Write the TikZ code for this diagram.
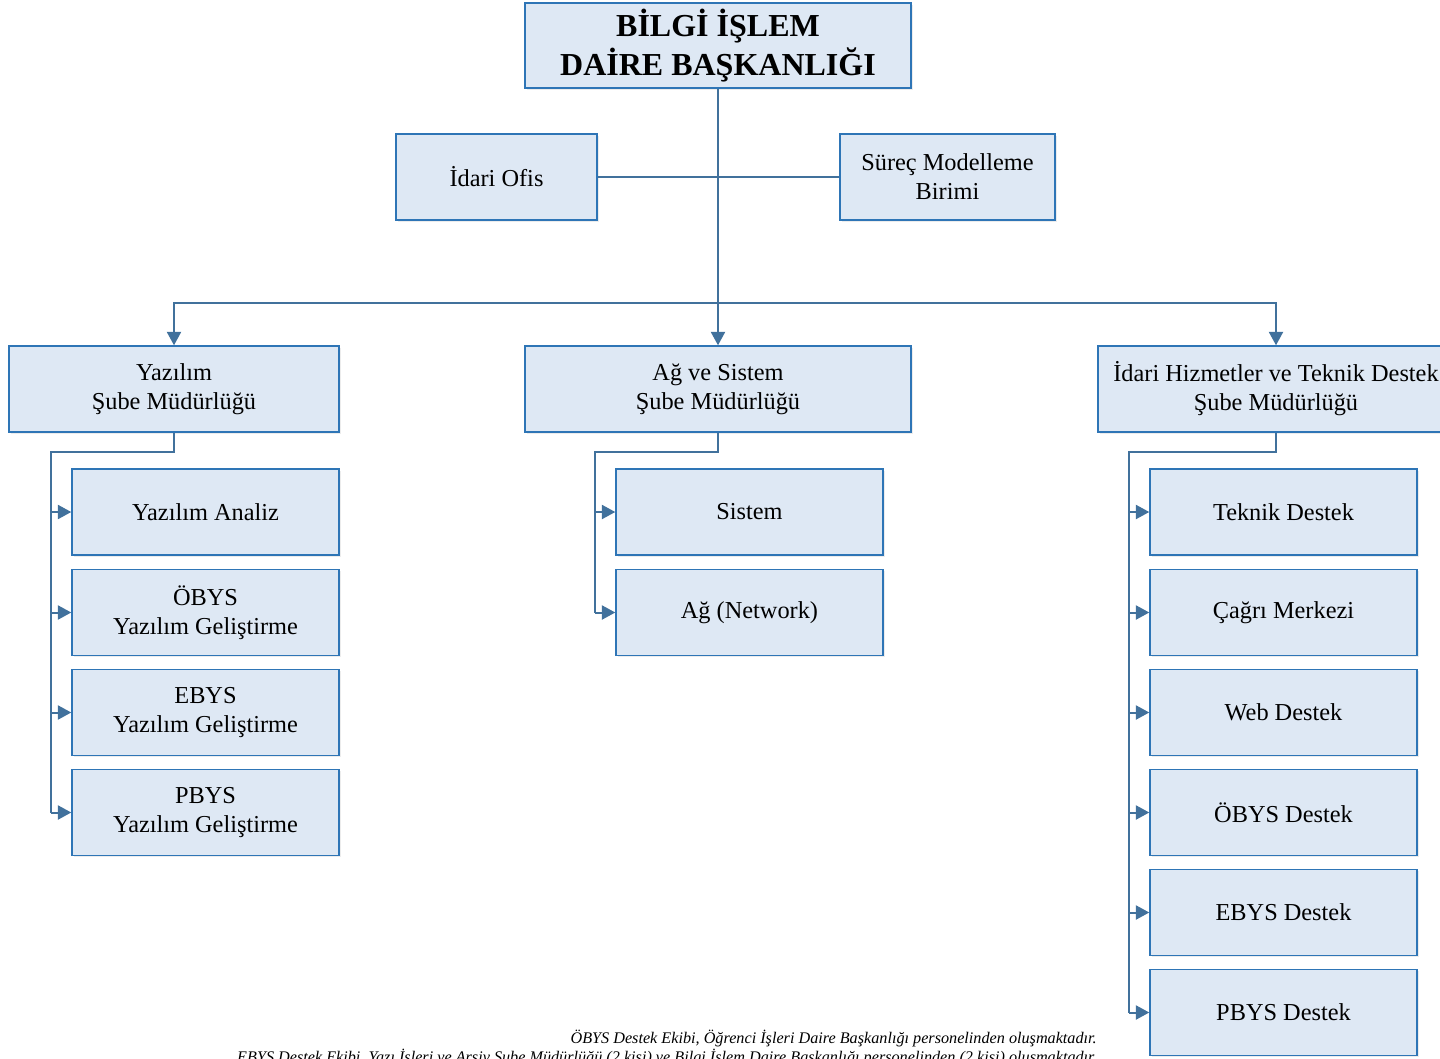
\documentclass[tikz,border=0pt]{standalone}
\usepackage{fontspec}
\setmainfont{Liberation Serif}
\usetikzlibrary{positioning,arrows.meta,shadows}
\definecolor{kutu}{HTML}{DEE8F4}
\definecolor{kenar}{HTML}{2E75B6}
\definecolor{hatrenk}{HTML}{41719C}

\begin{document}
\begin{tikzpicture}[x=0.75pt, y=-0.75pt,
    birim/.style={draw=kenar, fill=kutu, line width=1.1pt, align=center, inner sep=0pt,
        minimum height=64.5pt, font=\fontsize{18.25}{21.75}\selectfont,
        drop shadow={shadow xshift=1.2pt, shadow yshift=-1.2pt, opacity=0.15}},
    alt/.style={birim, minimum width=200.25pt},
    baglanti/.style={draw=hatrenk, line width=1.5pt},
    ok/.style={baglanti, -{Triangle[length=10pt,width=10.5pt]}}]

    \useasboundingbox (0,0) rectangle (1440,1058);

    \node[birim, minimum width=289.5pt, minimum height=63.75pt,
        font=\fontsize{24}{29}\selectfont\bfseries] (bim) at (718,45.5) {BİLGİ İŞLEM\\DAİRE BAŞKANLIĞI};
    \node[birim, minimum width=150.75pt] (ofis) at (496.5,177) {İdari Ofis};
    \node[birim, minimum width=161.25pt] (surec) at (947.5,177) {Süreç Modelleme\\Birimi};

    \node[birim, minimum width=247.5pt] (yazilim) at (174,389) {Yazılım\\Şube Müdürlüğü};
    \node[birim, minimum width=289.5pt] (ag) at (718,389) {Ağ ve Sistem\\Şube Müdürlüğü};
    \node[birim, minimum width=267pt] (idari) at (1276,389) {İdari Hizmetler ve Teknik Destek\\Şube Müdürlüğü};

    % yazilim alt birimleri
    \node[alt] (ya1) at (205.5,512) {Yazılım Analiz};
    \node[alt] (ya2) at (205.5,612.5) {ÖBYS\\Yazılım Geliştirme};
    \node[alt] (ya3) at (205.5,712.5) {EBYS\\Yazılım Geliştirme};
    \node[alt] (ya4) at (205.5,812.5) {PBYS\\Yazılım Geliştirme};

    % ag alt birimleri
    \node[alt] (ag1) at (749.5,512) {Sistem};
    \node[alt] (ag2) at (749.5,612.5) {Ağ (Network)};

    % idari alt birimleri
    \node[alt] (id1) at (1283.5,512) {Teknik Destek};
    \node[alt] (id2) at (1283.5,612.5) {Çağrı Merkezi};
    \node[alt] (id3) at (1283.5,712.5) {Web Destek};
    \node[alt] (id4) at (1283.5,812.5) {ÖBYS Destek};
    \node[alt] (id5) at (1283.5,912.5) {EBYS Destek};
    \node[alt] (id6) at (1283.5,1012.5) {PBYS Destek};

    \coordinate (bus) at (718,303);
    \coordinate (ybus) at (51,452);
    \coordinate (abus) at (595,452);
    \coordinate (ibus) at (1129,452);

    \draw[ok] (bim.south) -- (ag.north);
    \draw[baglanti] (ofis) -- (surec);
    \draw[ok] (bus) -| (yazilim.north);
    \draw[ok] (bus) -| (idari.north);

    \draw[baglanti] (yazilim.south) |- (ybus) -- (ybus |- ya4.west);
    \foreach \n in {ya1,ya2,ya3,ya4}
        \draw[ok] (ybus |- \n.west) -- (\n.west);

    \draw[baglanti] (ag.south) |- (abus) -- (abus |- ag2.west);
    \foreach \n in {ag1,ag2}
        \draw[ok] (abus |- \n.west) -- (\n.west);

    \draw[baglanti] (idari.south) |- (ibus) -- (ibus |- id6.west);
    \foreach \n in {id1,id2,id3,id4,id5,id6}
        \draw[ok] (ibus |- \n.west) -- (\n.west);

    \node[anchor=base east, align=right, inner sep=0pt,
        font=\fontsize{12.15}{10.5}\selectfont\itshape] (not) at (1097,1062)
        {ÖBYS Destek Ekibi, Öğrenci İşleri Daire Başkanlığı personelinden oluşmaktadır.\\
         EBYS Destek Ekibi, Yazı İşleri ve Arşiv Şube Müdürlüğü (2 kişi) ve Bilgi İşlem Daire Başkanlığı personelinden (2 kişi) oluşmaktadır.};
\end{tikzpicture}
\end{document}
